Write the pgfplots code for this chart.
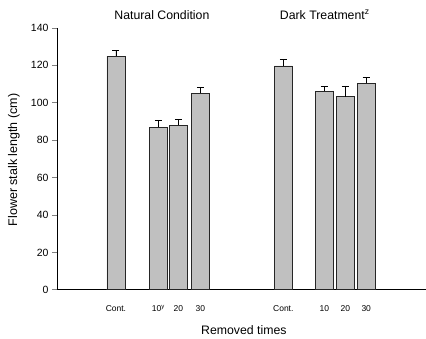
\documentclass[border=0pt]{standalone}
\usepackage{pgfplots}
\pgfplotsset{compat=1.18}
\usepackage{fontspec}
\setmainfont{Liberation Sans}
\definecolor{barfill}{RGB}{192,192,192}
\begin{document}
\begin{tikzpicture}
\begin{axis}[
  scale only axis,
  width=369pt, height=262pt,
  xmin=0, xmax=369, ymin=0, ymax=140,
  axis lines*=left,
  axis line style={line width=0.6pt},
  ytick={0,20,...,140},
  tick align=outside,
  ytick style={line width=0.6pt},
  major tick length=5pt,
  xtick={59,101.5,121.5,143.5,226.5,267.5,288.5,309.5},
  xticklabels={Cont.,{10$^{\mathrm{y}}$},20,30,Cont.,10,20,30},
  xtick style={draw=none},
  xticklabel style={font=\fontsize{8.5}{10}\selectfont, yshift=-7pt},
  yticklabel style={font=\fontsize{10.5}{12}\selectfont},
  /pgf/number format/assume math mode=true,
  ylabel={Flower stalk length (cm)},
  ylabel style={font=\fontsize{12.5}{14}\selectfont, at={(axis description cs:-0.1165,0.496)}, anchor=center},
  clip=false,
]
\addplot[ybar, bar width=18, fill=barfill, draw=black!85, line width=0.6pt,
  error bars/.cd, y dir=plus, y explicit,
  error bar style={line width=0.7pt, black},
  error mark options={rotate=90, mark size=3.5pt, line width=0.7pt, black}]
  table[x=x, y=y, y error=e] {
x y e
59 125 3
101.5 87 3.5
121.5 88 3.2
143.5 105 3.2
226.5 119.7 3.5
267.5 106.2 2.7
288.5 103.3 5.7
309.5 110.4 3.1
};
\node[font=\fontsize{12.3}{14}\selectfont] at (axis cs:105,147) {Natural Condition};
\node[font=\fontsize{12.3}{14}\selectfont] at (axis cs:268,147) {Dark Treatment$^{\mathrm{z}}$};
\node[font=\fontsize{12.3}{14}\selectfont] at (axis cs:187,-21.5) {Removed times};
\coordinate (sw) at (axis cs:0,0);
\coordinate (ne) at (axis cs:369,140);
\end{axis}
\useasboundingbox ([xshift=-57pt,yshift=-49pt]sw) rectangle ([yshift=28pt]ne);
\end{tikzpicture}
\end{document}
